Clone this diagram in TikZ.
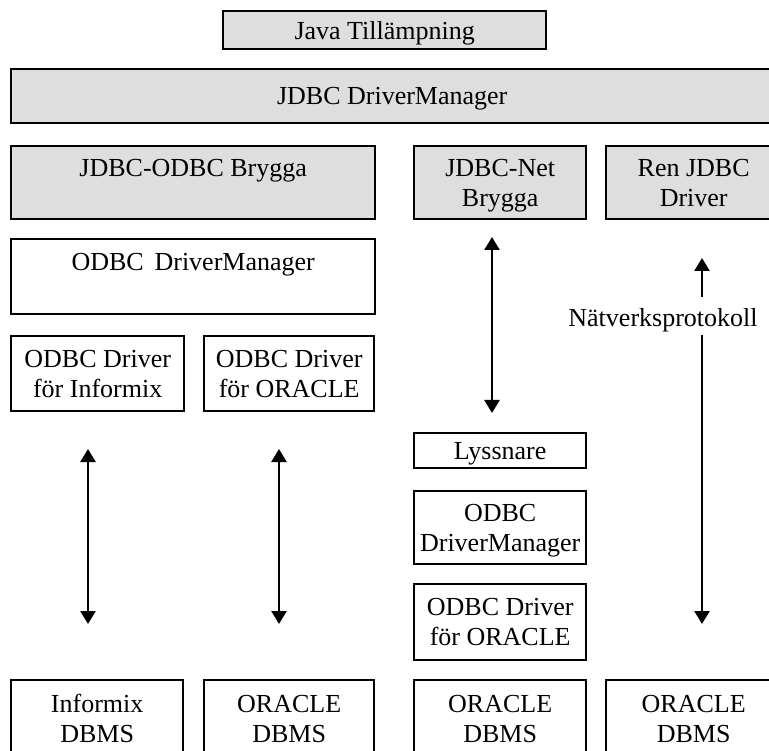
\documentclass[tikz,border=0pt]{standalone}
\usepackage{fontspec}
\setmainfont{Liberation Serif}
\usepackage{tikz}
\usetikzlibrary{arrows.meta}

\begin{document}
\begin{tikzpicture}[
    x=1pt, y=-1pt,
    font=\fontsize{26}{30}\selectfont,
    box/.style={rectangle, draw, line width=2.4pt, anchor=north west, align=center, inner sep=0pt, text depth=0pt},
    grey/.style={fill=black!13},
    wh/.style 2 args={minimum width=#1pt, minimum height=#2pt},
    arrow/.style={line width=2.5pt, -{Triangle[width=15pt,length=13pt]}},
    dblarrow/.style={line width=2.5pt, {Triangle[width=15pt,length=13pt]}-{Triangle[width=15pt,length=13pt]}}
]
    \useasboundingbox (0,0) rectangle (769,751);
    \clip (0,0) rectangle (769,751);

    % JDBC layers
    \node[box, grey, wh={323}{38}] (app) at (222,10) {Java Tillämpning};
    \node[box, grey, wh={762}{54}] (jdbcdm) at (10,68) {JDBC DriverManager};
    \node[box, grey, wh={364}{73}] (odbcbr) at (10,145) {JDBC-ODBC Brygga\\~};
    \node[box, grey, wh={172}{73}] (netbr) at (413,145) {JDBC-Net\\Brygga};
    \node[box, grey, wh={175}{73}] (pure) at (605,145) {Ren JDBC\\Driver};

    % ODBC side
    \node[box, wh={364}{75}] (odbcdm) at (10,238) {ODBC\, DriverManager\\~};
    \node[box, wh={173}{75}] (drvinf) at (10,335) {ODBC Driver\\för Informix};
    \node[box, wh={170}{75}] (drvora) at (203,335) {ODBC Driver\\för ORACLE};

    % server side of the net bridge
    \node[box, wh={172}{35}] (lyss) at (413,432) {Lyssnare};
    \node[box, wh={172}{73}] (odbcdm2) at (413,490) {ODBC\\DriverManager};
    \node[box, wh={172}{76}] (drvora2) at (413,583) {ODBC Driver\\för ORACLE};

    % databases
    \node[box, wh={172}{77}] (dbinf) at (10,679) {Informix\\DBMS};
    \node[box, wh={170}{77}] (dbora1) at (203,679) {ORACLE\\DBMS};
    \node[box, wh={172}{77}] (dbora2) at (413,679) {ORACLE\\DBMS};
    \node[box, wh={175}{77}] (dbora3) at (605,679) {ORACLE\\DBMS};

    \node[anchor=base, inner sep=0pt] (proto) at (663,327) {Nätverksprotokoll};

    \coordinate (a1) at (88,449);   \coordinate (b1) at (88,624);
    \coordinate (a2) at (279,449);  \coordinate (b2) at (279,624);
    \coordinate (a3) at (492,237);  \coordinate (b3) at (492,413);
    \coordinate (a4) at (702,258);  \coordinate (c4) at (702,297);
    \coordinate (d4) at (702,335);  \coordinate (b4) at (702,624);

    \draw[dblarrow] (a1) -- (b1);
    \draw[dblarrow] (a2) -- (b2);
    \draw[dblarrow] (a3) -- (b3);
    \draw[arrow] (c4) -- (a4);
    \draw[arrow] (d4) -- (b4);
\end{tikzpicture}
\end{document}
